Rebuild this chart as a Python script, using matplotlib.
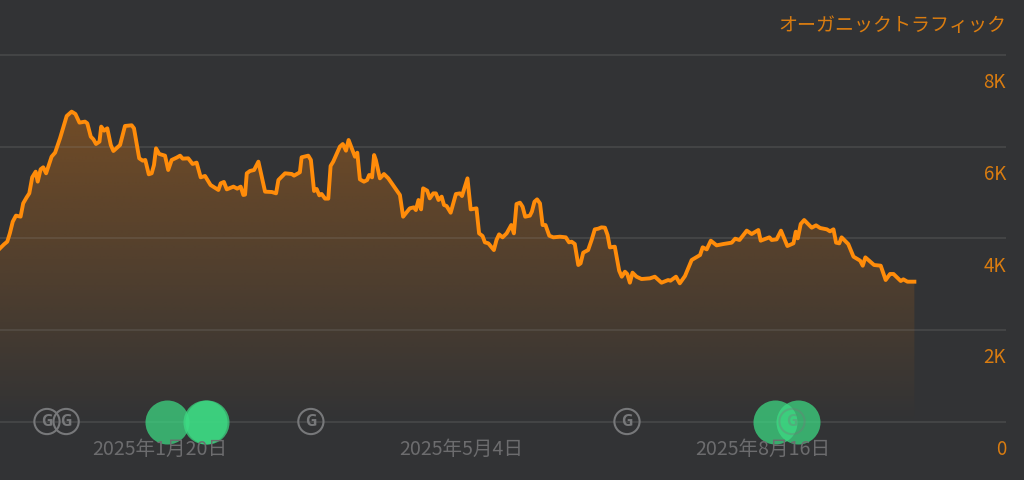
import numpy as np
import matplotlib
matplotlib.use('Agg')
import matplotlib.pyplot as plt
from matplotlib.patches import Polygon

plt.rcParams['font.family'] = ['Noto Sans CJK JP', 'DejaVu Sans']

# days since the left edge of the chart, traffic
days = [0, 1.4, 2.5, 3.4, 4.4, 5.5, 7.1, 8.0, 9.2, 10.1, 11.1, 12.3, 13.0, 14.0, 14.9, 15.9, 17.8, 19.0, 20.7, 23.0,
        24.7, 26.0, 27.4, 29.3, 30.1, 31.3, 32.2, 33.1, 34.3, 34.9, 35.9, 37.0, 38.2, 39.1, 41.4, 43.1, 45.4, 46.2, 48.0, 49.2,
        50.1, 51.3, 52.3, 53.1, 53.8, 54.9, 56.9, 58.0, 59.2, 60.9, 62.1, 63.0, 64.9, 66.4, 67.8, 69.2, 70.7, 72.6, 75.3, 76.1,
        77.2, 78.2, 80.5, 81.8, 83.0, 83.9, 84.5, 85.1, 86.2, 87.6, 89.1, 91.4, 93.7, 95.2, 96.0, 98.3, 100.6, 101.4, 103.4, 104.0,
        106.3, 107.2, 108.3, 109.2, 110.1, 110.9, 112.1, 113.2, 114.0, 114.9, 117.2, 118.2, 119.3, 120.2, 122.4, 123.2, 124.1, 125.5, 126.6, 127.3,
        128.3, 129.0, 129.6, 131.0, 132.4, 133.9, 137.9, 139.0, 141.3, 142.7, 143.4, 144.3, 145.2, 145.9, 147.3, 148.2, 149.4, 150.3, 151.2, 152.3,
        153.1, 154.0, 155.4, 157.2, 158.6, 159.3, 161.2, 162.3, 164.3, 165.2, 166.4, 167.2, 168.4, 170.3, 171.2, 172.1, 173.3, 174.7, 176.3, 177.2,
        178.1, 179.3, 180.2, 181.1, 182.7, 183.4, 184.3, 185.2, 186.2, 187.1, 188.1, 189.4, 190.8, 193.1, 195.1, 196.2, 197.1, 198.2, 199.4, 200.2,
        201.1, 202.8, 204.0, 205.1, 206.3, 207.4, 208.6, 209.5, 210.3, 212.0, 213.5, 214.4, 215.5, 216.3, 217.2, 218.1, 219.5, 221.2, 224.1, 225.8,
        228.1, 230.4, 231.2, 233.1, 234.4, 236.2, 238.5, 241.4, 242.3, 243.7, 245.1, 247.1, 249.4, 252.3, 253.5, 255.0, 257.5, 259.2, 261.5, 262.3,
        265.3, 266.1, 267.8, 269.3, 271.5, 273.6, 274.4, 275.1, 276.1, 277.3, 279.9, 281.4, 282.8, 285.1, 286.2, 287.4, 288.3, 289.4, 290.2, 292.5,
        294.3, 296.6, 297.5, 298.4, 301.4, 303.7, 305.4, 306.9, 308.1, 310.6, 311.5, 312.9, 315.3]
traffic = [3780, 3868, 3926, 4108, 4363, 4494, 4472, 4763, 4894, 4981, 5330, 5454, 5236, 5505, 5549, 5418, 5782, 5869, 6182, 6669,
           6764, 6713, 6524, 6546, 6509, 6218, 6160, 6058, 6109, 6437, 6349, 6400, 6036, 5905, 6036, 6451, 6466, 6400, 5745, 5694,
           5709, 5396, 5418, 5600, 5963, 5840, 5803, 5490, 5709, 5760, 5803, 5738, 5745, 5622, 5651, 5330, 5360, 5163, 5054, 5199,
           5229, 5068, 5127, 5083, 5127, 4945, 4952, 5418, 5469, 5490, 5672, 5017, 5010, 4981, 5272, 5418, 5403, 5367, 5440, 5767,
           5803, 5709, 5032, 5076, 4937, 4966, 4865, 4865, 5578, 5672, 6000, 6057, 5912, 6145, 5781, 5868, 5286, 5235, 5271, 5381,
           5330, 5817, 5708, 5308, 5402, 5308, 4944, 4471, 4653, 4675, 4616, 4835, 4631, 5090, 5039, 4871, 4980, 4980, 4835, 4908,
           4726, 4704, 4558, 4966, 4980, 4922, 5308, 4631, 4653, 4107, 4049, 3911, 3889, 3743, 3962, 4085, 4020, 4107, 4289, 4107,
           4748, 4777, 4689, 4471, 4493, 4580, 4798, 4849, 4762, 4289, 4289, 4056, 4020, 4034, 4020, 3911, 3925, 3874, 3416, 3452,
           3685, 3743, 3962, 4194, 4209, 4238, 4231, 4071, 3801, 3816, 3292, 3161, 3270, 3219, 3030, 3249, 3161, 3110, 3125, 3161,
           3030, 3088, 3074, 3161, 3016, 3176, 3525, 3634, 3802, 3758, 3947, 3845, 3874, 3904, 3991, 3962, 4166, 4093, 4180, 3947,
           4020, 3962, 3976, 4166, 3831, 3889, 4144, 3998, 4311, 4398, 4231, 4282, 4224, 4195, 4151, 4195, 3904, 3889, 4020, 3874,
           3598, 3511, 3401, 3583, 3416, 3401, 3089, 3220, 3220, 3067, 3103, 3052, 3052]

y_ticks = [0, 2000, 4000, 6000, 8000]
y_labels = ['0', '2K', '4K', '6K', '8K']
date_days = [55.2, 159.1, 263.0]
date_labels = ['2025年1月20日', '2025年5月4日', '2025年8月16日']
google_days = [16.2, 22.8, 107.2, 216.2, 273.1]
green_days = [57.6, 70.7, 71.4, 267.2, 275.2]

BG = '#323335'
ORANGE = '#ff8c0a'
LABEL = '#d97c10'
GREY = '#6c6c6e'

fig = plt.figure(figsize=(10.24, 4.8), dpi=100, facecolor=BG)
ax = fig.add_axes([0, 0, 1, 1], facecolor=BG)

# gradient under the line
grad = np.zeros((256, 2, 4))
grad[..., :3] = matplotlib.colors.to_rgb('#c86e14')
grad[..., 3] = np.linspace(0.0, 0.44, 256)[:, None]
img = ax.imshow(grad, origin='lower', aspect='auto', extent=[0, days[-1], 0, 7000], zorder=1, interpolation='bilinear')
ax.set_xlim(0, 353.1)
ax.set_ylim(-1277, 9201)
ax.axis('off')
poly = Polygon(list(zip(days, traffic)) + [(days[-1], 0), (0, 0)], closed=True, transform=ax.transData,
               facecolor='none', edgecolor='none')
ax.add_patch(poly)
img.set_clip_path(poly)

for t in y_ticks:
    ax.plot([0, 346.9], [t, t], color='#8a8a86', alpha=0.26, lw=1.1, zorder=2, solid_capstyle='butt')

ax.plot(days, traffic, color=ORANGE, lw=2.8, zorder=3, solid_joinstyle='round')

# update markers on the baseline, the last G sits inside a green one and stays faint
ax.scatter(green_days, [0] * len(green_days), s=1005, color='#3ddc84', alpha=0.72, linewidths=0, zorder=4)
for i, d in enumerate(google_days):
    a = 0.35 if i == len(google_days) - 1 else 1
    ax.scatter([d], [0], s=330, facecolors='none', edgecolors='#77787a', linewidths=1.5, alpha=a, zorder=5)
    ax.text(d, 0, 'G', color='#77787a', fontsize=11.5, fontweight='bold', ha='center', va='center',
            family='Open Sans', alpha=a, zorder=5)

for d, s in zip(date_days, date_labels):
    ax.annotate(s, (d, 0), xytext=(0, -20), textcoords='offset points', ha='center', va='center',
                color=GREY, fontsize=14.1, zorder=6)
for t, s in zip(y_ticks, y_labels):
    ax.annotate(s, (346.9, t), xytext=(0, -20), textcoords='offset points', ha='right', va='center',
                color=LABEL, fontsize=13.5, zorder=6)
ax.text(346.9, 8640, 'オーガニックトラフィック', color=LABEL, fontsize=13.7, ha='right', va='center', zorder=6)

fig.savefig('out.png', dpi=100, facecolor=BG)
